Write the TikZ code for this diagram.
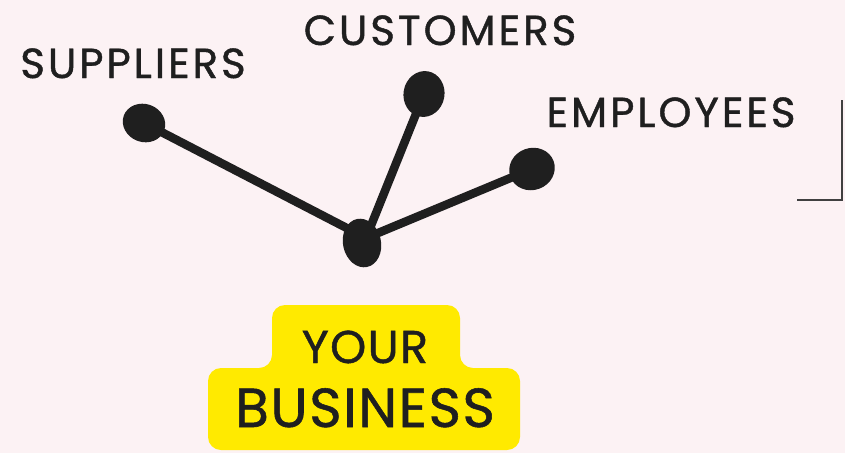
\documentclass[tikz,border=0pt]{standalone}
\usepackage{fontspec}
\setmainfont{Poppins}
\newfontfamily\handfont{Poppins}[FakeBold=1.0, LetterSpace=3]
\newfontfamily\handfontwide{Poppins}[FakeBold=1.0, LetterSpace=7]
\usetikzlibrary{positioning}
\usetikzlibrary{shapes.geometric}
\definecolor{bgpink}{RGB}{252,242,244}
\definecolor{hiyellow}{RGB}{255,234,0}
\colorlet{inkblack}{black!88}

\begin{document}
\begin{tikzpicture}[x=1pt,y=-1pt,
		every node/.style={
			font=\handfontwide\fontsize{42}{44}\selectfont,
			inkblack
		},
		blob/.style 2 args={ellipse, fill=inkblack, inner sep=0pt, minimum width=#1, minimum height=#2},
		spoke/.style={line width=8.5pt, inkblack, line cap=round}
	]

	\def\stepy{368}

	\fill[bgpink] (0,0) rectangle (845,453);
	\useasboundingbox (0,0) rectangle (845,453);

	% highlight behind the name
	\fill[hiyellow, rounded corners=13pt] (272,\stepy) -- (272,305) -- (460,305) -- (460,\stepy)
		-- (520,\stepy) -- (520,450) -- (208,450) -- (208,\stepy) -- cycle;

	\node[anchor=base, font=\handfont\fontsize{46}{48}\selectfont] (your) at (365,363) {YOUR};
	\node[anchor=base, font=\handfont\fontsize{55}{57}\selectfont] (biz) at (365,427) {BUSINESS};

	\node[blob={38pt}{49pt}, rotate=12] (hub) at (362,243) {};
	\node[blob={43pt}{38pt}, rotate=-20] (sup) at (144,123) {};
	\node[blob={41pt}{46pt}, rotate=-10] (cust) at (424,94) {};
	\node[blob={46pt}{42pt}, rotate=20] (emp) at (532,169) {};

	\foreach \s in {sup,cust,emp}{
		\draw[spoke] (\s.center) -- ([xshift=4pt,yshift=5pt]hub.center);
	}

	\node[anchor=base] (psup) at (133,78) {SUPPLIERS};
	\node[anchor=base] (pcust) at (440,45) {CUSTOMERS};
	\node[anchor=base] (pemp) at (671,127) {EMPLOYEES};

	% corner of the frame at the right
	\coordinate (ftop) at (842,100);
	\coordinate (fcorner) at (842,200);
	\coordinate (fend) at (797,200);
	\draw[line width=1.6pt, black!75] (ftop) -- (fcorner) -- (fend);

\end{tikzpicture}
\end{document}
